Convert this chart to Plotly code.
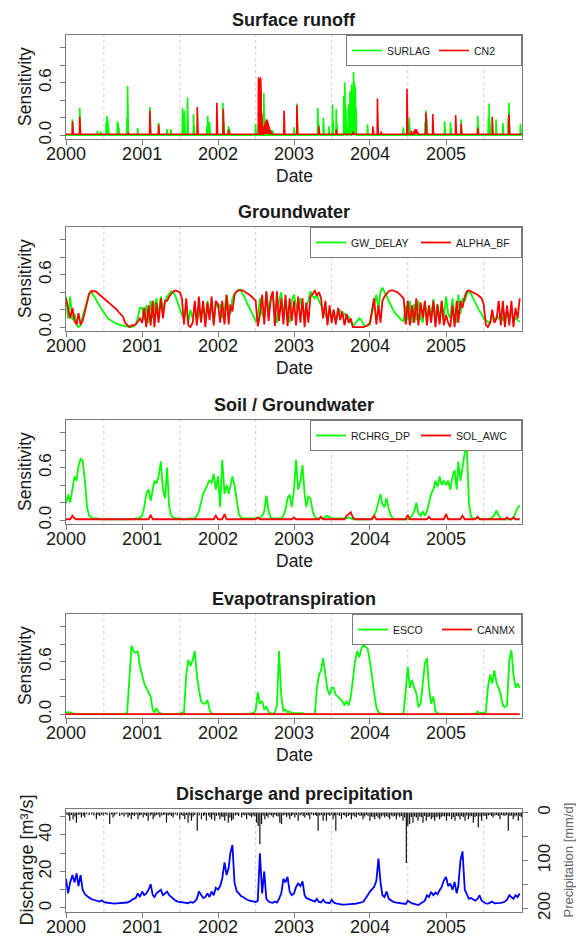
import pandas as pd
import plotly.graph_objects as go

FONT = "Liberation Sans, Arial, Helvetica, sans-serif"
W, H = 576, 937
AXIS_COL = "#7a7a7a"
TEXT_COL = "#1a1a1a"

YEARS = [2000, 2001, 2002, 2003, 2004, 2005]
YEAR_LABELS = [str(y) for y in YEARS]
# ten-day sampling dates (1st, 11th, 21st of each month)
DEKADS = [f"{y}-{m:02d}-{d:02d}" for y in YEARS for m in range(1, 13) for d in (1, 11, 21)]

# ---------------- Surface runoff: daily sensitivity peaks (year, day of year, value)
SURLAG_PEAKS = [
    (2000, 32, 0.18), (2000, 35, 0.10), (2000, 67, 0.31), (2000, 70, 0.12), (2000, 152, 0.05),
    (2000, 168, 0.04), (2000, 194, 0.15), (2000, 198, 0.22), (2000, 202, 0.18), (2000, 206, 0.08),
    (2000, 248, 0.16), (2000, 252, 0.14), (2000, 256, 0.08), (2000, 294, 0.20), (2000, 297, 0.56),
    (2000, 300, 0.12), (2000, 345, 0.08),
    (2001, 38, 0.32), (2001, 80, 0.14), (2001, 120, 0.07), (2001, 139, 0.07), (2001, 195, 0.31),
    (2001, 198, 0.20), (2001, 204, 0.28), (2001, 219, 0.43), (2001, 222, 0.15), (2001, 248, 0.24),
    (2001, 252, 0.10), (2001, 312, 0.10), (2001, 316, 0.22), (2001, 325, 0.15),
    (2002, 24, 0.37), (2002, 28, 0.15), (2002, 51, 0.10), (2002, 55, 0.08), (2002, 181, 0.13),
    (2002, 221, 0.48), (2002, 225, 0.20), (2002, 245, 0.06), (2002, 259, 0.06), (2002, 265, 0.05),
    (2003, 1, 0.09), (2003, 15, 0.36), (2003, 115, 0.31), (2003, 120, 0.12), (2003, 142, 0.20),
    (2003, 168, 0.10), (2003, 186, 0.35), (2003, 190, 0.15), (2003, 204, 0.30), (2003, 208, 0.12),
    (2003, 240, 0.45), (2003, 245, 0.60), (2003, 250, 0.30), (2003, 262, 0.35), (2003, 266, 0.28),
    (2003, 270, 0.50), (2003, 278, 0.58), (2003, 282, 0.40), (2003, 287, 0.72), (2003, 292, 0.60),
    (2003, 296, 0.55), (2003, 300, 0.30), (2003, 354, 0.12),
    (2004, 161, 0.09), (2004, 185, 0.12), (2004, 190, 0.20), (2004, 266, 0.15), (2004, 270, 0.28),
    (2004, 274, 0.20), (2004, 360, 0.16),
    (2005, 22, 0.15), (2005, 26, 0.08), (2005, 73, 0.18), (2005, 153, 0.22), (2005, 157, 0.10),
    (2005, 204, 0.20), (2005, 208, 0.36), (2005, 212, 0.15), (2005, 241, 0.18), (2005, 274, 0.14),
    (2005, 299, 0.20), (2005, 303, 0.37), (2005, 358, 0.13),
]
SURLAG_BASE = 0.0

CN2_PEAKS = [
    (2000, 32, 0.16), (2000, 67, 0.21), (2000, 300, 0.03),
    (2001, 38, 0.28), (2001, 80, 0.12), (2001, 266, 0.32), (2001, 360, 0.37),
    (2002, 26, 0.30), (2002, 51, 0.06), (2002, 195, 0.66), (2002, 198, 0.60), (2002, 201, 0.64),
    (2002, 205, 0.66), (2002, 208, 0.50), (2002, 211, 0.25), (2002, 214, 0.12), (2002, 218, 0.08),
    (2002, 222, 0.10), (2002, 226, 0.13), (2002, 230, 0.16), (2002, 234, 0.18), (2002, 238, 0.17),
    (2002, 242, 0.14), (2002, 246, 0.10), (2002, 250, 0.07), (2002, 254, 0.05), (2002, 258, 0.03),
    (2002, 318, 0.28),
    (2003, 15, 0.34), (2003, 120, 0.10), (2003, 204, 0.07), (2003, 285, 0.04),
    (2004, 15, 0.10), (2004, 37, 0.42), (2004, 55, 0.04), (2004, 179, 0.53), (2004, 200, 0.05),
    (2004, 212, 0.04), (2004, 216, 0.06), (2004, 220, 0.07), (2004, 224, 0.07), (2004, 228, 0.05),
    (2004, 232, 0.03), (2004, 270, 0.26), (2004, 303, 0.24),
    (2005, 47, 0.23), (2005, 73, 0.13), (2005, 153, 0.08), (2005, 223, 0.21), (2005, 303, 0.24),
]
CN2_BASE = 0.01

# ---------------- Groundwater (ten-day values)
GW_DELAY = [
    0.35, 0.10, 0.35, 0.08, 0.15, 0.03, 0.00, 0.02, 0.12, 0.22, 0.32, 0.38, 0.40, 0.37, 0.33, 0.28, 0.24, 0.20,
    0.16, 0.13, 0.10, 0.08, 0.06, 0.05, 0.04, 0.03, 0.02, 0.02, 0.01, 0.01, 0.00, 0.00, 0.01, 0.03, 0.10, 0.22,
    0.22, 0.08, 0.25, 0.05, 0.30, 0.10, 0.25, 0.33, 0.12, 0.35, 0.20, 0.30, 0.35, 0.38, 0.41, 0.40, 0.35, 0.28,
    0.20, 0.14, 0.10, 0.25, 0.05, 0.20, 0.10, 0.25, 0.05, 0.20, 0.08, 0.25, 0.10, 0.30, 0.15, 0.25, 0.05, 0.28,
    0.22, 0.26, 0.10, 0.20, 0.37, 0.20, 0.15, 0.33, 0.38, 0.41, 0.43, 0.42, 0.38, 0.33, 0.27, 0.22, 0.18, 0.12,
    0.07, 0.10, 0.33, 0.15, 0.10, 0.41, 0.20, 0.30, 0.38, 0.15, 0.05, 0.30, 0.40, 0.10, 0.30, 0.15, 0.05, 0.30,
    0.37, 0.25, 0.18, 0.33, 0.22, 0.12, 0.25, 0.30, 0.41, 0.35, 0.33, 0.37, 0.30, 0.25, 0.20, 0.15, 0.07, 0.20,
    0.10, 0.20, 0.06, 0.15, 0.20, 0.12, 0.16, 0.10, 0.12, 0.06, 0.01, 0.04, 0.07, 0.10, 0.08, 0.03, 0.01, 0.02,
    0.03, 0.15, 0.26, 0.37, 0.20, 0.41, 0.45, 0.40, 0.35, 0.30, 0.24, 0.20, 0.16, 0.13, 0.10, 0.08, 0.07, 0.25,
    0.08, 0.30, 0.05, 0.26, 0.08, 0.30, 0.10, 0.05, 0.30, 0.08, 0.25, 0.12, 0.32, 0.08, 0.26, 0.05, 0.30, 0.10,
    0.35, 0.15, 0.10, 0.33, 0.10, 0.05, 0.37, 0.15, 0.33, 0.30, 0.38, 0.41, 0.38, 0.33, 0.28, 0.23, 0.18, 0.15,
    0.10, 0.08, 0.06, 0.05, 0.12, 0.08, 0.12, 0.10, 0.16, 0.07, 0.17, 0.12, 0.15, 0.14, 0.12, 0.10, 0.08, 0.06,
]
ALPHA_BF = [
    0.33, 0.22, 0.10, 0.22, 0.07, 0.03, 0.16, 0.03, 0.07, 0.18, 0.30, 0.38, 0.41, 0.41, 0.41, 0.39, 0.37, 0.34,
    0.33, 0.31, 0.28, 0.26, 0.24, 0.22, 0.20, 0.17, 0.14, 0.12, 0.05, 0.02, 0.00, 0.02, 0.02, 0.03, 0.07, 0.10,
    0.05, 0.22, 0.00, 0.25, 0.02, 0.30, 0.00, 0.28, 0.05, 0.33, 0.10, 0.30, 0.30, 0.35, 0.38, 0.41, 0.42, 0.41,
    0.40, 0.33, 0.03, 0.33, 0.02, 0.00, 0.05, 0.30, 0.02, 0.35, 0.05, 0.30, 0.00, 0.28, 0.08, 0.35, 0.02, 0.30,
    0.26, 0.05, 0.30, 0.03, 0.37, 0.03, 0.26, 0.18, 0.37, 0.41, 0.42, 0.42, 0.42, 0.40, 0.39, 0.37, 0.35, 0.32,
    0.30, 0.01, 0.14, 0.37, 0.03, 0.41, 0.07, 0.33, 0.41, 0.01, 0.41, 0.07, 0.33, 0.03, 0.37, 0.01, 0.33, 0.07,
    0.30, 0.02, 0.35, 0.05, 0.33, 0.00, 0.28, 0.05, 0.35, 0.38, 0.42, 0.36, 0.40, 0.33, 0.10, 0.30, 0.02, 0.25,
    0.05, 0.20, 0.03, 0.22, 0.08, 0.18, 0.02, 0.15, 0.05, 0.10, 0.00, 0.00, 0.00, 0.00, 0.00, 0.00, 0.01, 0.02,
    0.05, 0.18, 0.33, 0.03, 0.25, 0.05, 0.30, 0.35, 0.38, 0.41, 0.42, 0.42, 0.41, 0.40, 0.38, 0.35, 0.33, 0.03,
    0.30, 0.02, 0.25, 0.05, 0.33, 0.02, 0.28, 0.10, 0.30, 0.02, 0.25, 0.05, 0.30, 0.00, 0.26, 0.03, 0.30, 0.02,
    0.14, 0.05, 0.00, 0.25, 0.00, 0.30, 0.05, 0.30, 0.22, 0.35, 0.41, 0.42, 0.41, 0.40, 0.39, 0.37, 0.35, 0.33,
    0.26, 0.03, 0.00, 0.05, 0.20, 0.05, 0.10, 0.30, 0.02, 0.30, 0.00, 0.25, 0.02, 0.30, 0.00, 0.22, 0.10, 0.33,
]

# ---------------- Soil / Groundwater (ten-day values)
RCHRG_DP = [
    0.19, 0.29, 0.20, 0.35, 0.50, 0.45, 0.62, 0.70, 0.68, 0.45, 0.15, 0.05, 0.03, 0.02, 0.02, 0.02, 0.01, 0.01,
    0.01, 0.01, 0.01, 0.01, 0.01, 0.01, 0.01, 0.01, 0.01, 0.01, 0.01, 0.01, 0.01, 0.01, 0.01, 0.02, 0.02, 0.03,
    0.05, 0.15, 0.30, 0.35, 0.22, 0.35, 0.45, 0.42, 0.50, 0.67, 0.35, 0.25, 0.60, 0.15, 0.05, 0.03, 0.02, 0.02,
    0.02, 0.01, 0.01, 0.01, 0.02, 0.02, 0.02, 0.02, 0.05, 0.10, 0.20, 0.30, 0.35, 0.40, 0.46, 0.42, 0.53, 0.35,
    0.50, 0.15, 0.69, 0.30, 0.40, 0.30, 0.38, 0.50, 0.40, 0.20, 0.07, 0.03, 0.02, 0.02, 0.02, 0.02, 0.02, 0.02,
    0.02, 0.02, 0.03, 0.05, 0.10, 0.28, 0.10, 0.03, 0.02, 0.02, 0.02, 0.02, 0.02, 0.05, 0.12, 0.25, 0.29, 0.15,
    0.35, 0.69, 0.35, 0.45, 0.63, 0.30, 0.15, 0.27, 0.25, 0.10, 0.04, 0.02, 0.02, 0.02, 0.02, 0.04, 0.05, 0.03,
    0.02, 0.02, 0.02, 0.02, 0.02, 0.02, 0.02, 0.02, 0.03, 0.02, 0.01, 0.01, 0.01, 0.01, 0.01, 0.01, 0.01, 0.01,
    0.01, 0.02, 0.05, 0.11, 0.20, 0.30, 0.18, 0.15, 0.25, 0.12, 0.05, 0.02, 0.01, 0.01, 0.01, 0.01, 0.01, 0.01,
    0.01, 0.02, 0.05, 0.10, 0.20, 0.08, 0.05, 0.10, 0.05, 0.10, 0.20, 0.30, 0.35, 0.45, 0.38, 0.50, 0.40, 0.45,
    0.40, 0.45, 0.35, 0.50, 0.57, 0.35, 0.67, 0.45, 0.60, 0.78, 0.80, 0.20, 0.04, 0.02, 0.02, 0.02, 0.02, 0.01,
    0.01, 0.01, 0.01, 0.02, 0.03, 0.06, 0.11, 0.05, 0.02, 0.01, 0.01, 0.01, 0.01, 0.01, 0.03, 0.08, 0.14, 0.17,
]
SOL_AWC = [
    0.01, 0.01, 0.01, 0.05, 0.02, 0.01, 0.01, 0.01, 0.01, 0.01, 0.01, 0.01, 0.01, 0.01, 0.01, 0.01, 0.01, 0.01,
    0.01, 0.01, 0.01, 0.01, 0.01, 0.01, 0.01, 0.01, 0.01, 0.01, 0.01, 0.01, 0.01, 0.01, 0.01, 0.01, 0.01, 0.01,
    0.01, 0.01, 0.01, 0.01, 0.06, 0.01, 0.01, 0.01, 0.01, 0.01, 0.01, 0.01, 0.01, 0.01, 0.01, 0.01, 0.01, 0.01,
    0.01, 0.01, 0.01, 0.01, 0.01, 0.01, 0.01, 0.01, 0.01, 0.01, 0.01, 0.01, 0.01, 0.01, 0.01, 0.01, 0.01, 0.05,
    0.01, 0.01, 0.01, 0.07, 0.01, 0.01, 0.01, 0.01, 0.01, 0.01, 0.01, 0.01, 0.01, 0.01, 0.01, 0.01, 0.01, 0.01,
    0.01, 0.03, 0.01, 0.01, 0.01, 0.01, 0.01, 0.01, 0.01, 0.01, 0.01, 0.01, 0.01, 0.01, 0.01, 0.01, 0.01, 0.01,
    0.03, 0.01, 0.01, 0.01, 0.01, 0.01, 0.01, 0.01, 0.01, 0.01, 0.01, 0.01, 0.01, 0.04, 0.01, 0.01, 0.01, 0.01,
    0.01, 0.01, 0.01, 0.01, 0.01, 0.01, 0.01, 0.05, 0.07, 0.09, 0.03, 0.01, 0.01, 0.01, 0.01, 0.01, 0.01, 0.01,
    0.01, 0.01, 0.05, 0.01, 0.01, 0.01, 0.01, 0.01, 0.01, 0.01, 0.01, 0.01, 0.01, 0.01, 0.01, 0.01, 0.01, 0.01,
    0.06, 0.01, 0.01, 0.01, 0.01, 0.01, 0.01, 0.01, 0.01, 0.01, 0.04, 0.01, 0.01, 0.01, 0.01, 0.01, 0.01, 0.01,
    0.07, 0.01, 0.01, 0.01, 0.01, 0.01, 0.01, 0.01, 0.05, 0.01, 0.01, 0.01, 0.01, 0.01, 0.01, 0.04, 0.01, 0.01,
    0.01, 0.01, 0.01, 0.01, 0.01, 0.01, 0.01, 0.01, 0.01, 0.01, 0.01, 0.03, 0.01, 0.01, 0.03, 0.01, 0.01, 0.01,
]

# ---------------- Evapotranspiration (ten-day values)
ESCO = [
    0.02, 0.02, 0.02, 0.01, 0.00, 0.00, 0.00, 0.00, 0.00, 0.00, 0.00, 0.00, 0.00, 0.00, 0.00, 0.00, 0.00, 0.00,
    0.00, 0.00, 0.00, 0.00, 0.00, 0.00, 0.00, 0.00, 0.00, 0.00, 0.00, 0.02, 0.50, 0.78, 0.72, 0.70, 0.72, 0.55,
    0.45, 0.35, 0.30, 0.25, 0.20, 0.05, 0.02, 0.07, 0.02, 0.01, 0.00, 0.00, 0.00, 0.00, 0.00, 0.00, 0.00, 0.00,
    0.00, 0.02, 0.01, 0.45, 0.62, 0.55, 0.62, 0.72, 0.45, 0.28, 0.15, 0.12, 0.12, 0.16, 0.05, 0.01, 0.00, 0.00,
    0.00, 0.00, 0.00, 0.00, 0.00, 0.00, 0.00, 0.00, 0.00, 0.00, 0.00, 0.00, 0.00, 0.00, 0.00, 0.00, 0.01, 0.01,
    0.05, 0.25, 0.12, 0.15, 0.05, 0.09, 0.02, 0.01, 0.00, 0.02, 0.10, 0.72, 0.20, 0.04, 0.05, 0.02, 0.03, 0.01,
    0.01, 0.01, 0.01, 0.01, 0.01, 0.00, 0.00, 0.00, 0.00, 0.00, 0.00, 0.30, 0.45, 0.50, 0.64, 0.45, 0.28, 0.22,
    0.30, 0.30, 0.22, 0.20, 0.17, 0.15, 0.10, 0.15, 0.10, 0.20, 0.39, 0.60, 0.72, 0.65, 0.75, 0.79, 0.77, 0.75,
    0.60, 0.45, 0.25, 0.08, 0.02, 0.01, 0.00, 0.00, 0.00, 0.00, 0.00, 0.00, 0.00, 0.00, 0.00, 0.00, 0.01, 0.30,
    0.54, 0.30, 0.39, 0.30, 0.24, 0.08, 0.12, 0.35, 0.58, 0.64, 0.30, 0.12, 0.20, 0.03, 0.01, 0.00, 0.00, 0.00,
    0.00, 0.00, 0.00, 0.00, 0.00, 0.00, 0.00, 0.00, 0.00, 0.00, 0.00, 0.00, 0.00, 0.00, 0.00, 0.03, 0.01, 0.02,
    0.01, 0.02, 0.30, 0.45, 0.35, 0.50, 0.35, 0.30, 0.22, 0.10, 0.08, 0.10, 0.62, 0.73, 0.45, 0.30, 0.35, 0.30,
]
CANMX = [0.0] * len(DEKADS)

# ---------------- Discharge [m3/s] (ten-day values)
DISCHARGE = [
    16, 8, 14, 18, 14, 19, 12, 18, 10, 7.5, 6.5, 5.5, 5, 4.5, 4.2, 3.8, 3.5, 4.2,
    3.3, 3, 2.8, 2.5, 2.5, 2.4, 2.5, 2.6, 2.5, 2.6, 2.8, 3, 3.5, 4.5, 5, 5.5, 8, 6,
    9, 7, 8, 10, 13, 7, 6, 8, 9, 10, 7, 8, 9, 7, 6, 5, 4, 3.5,
    3.3, 3, 2.8, 2.5, 2.6, 3.3, 2.8, 3.5, 5, 9, 7, 5.5, 6, 8, 6, 9, 7, 11,
    10, 12, 16, 25, 18, 22, 30, 34.5, 14, 9, 8, 6.5, 6, 5, 4.5, 4, 3.8, 3.5,
    3.3, 4, 30, 8, 20, 5, 3.5, 3, 2.8, 3.5, 3, 5, 8, 16, 14, 17, 9, 7,
    8, 11.5, 13.4, 12, 14.6, 7, 5.5, 5, 4.5, 4, 3.5, 5, 3.3, 3, 4.5, 3, 2.8, 2.6,
    4.5, 3, 2.5, 2.2, 2, 1.8, 1.8, 1.8, 2, 2, 2.2, 2.3, 2.5, 3, 3, 3.5, 5, 7,
    9, 10, 11.5, 15, 27, 14, 7, 6, 9, 5, 4, 3.5, 3, 2.8, 2.5, 2.4, 2, 2.2,
    4, 3, 2.5, 2.2, 2, 1.6, 2.5, 3.5, 4, 7, 6, 8.8, 7, 8.5, 7.5, 9.7, 11.5, 15,
    17, 12, 13.4, 10, 14.3, 8, 12, 26, 31, 10, 7, 5, 5.5, 4.5, 4, 5, 7, 4,
    3, 2.5, 2.4, 3, 3.5, 2.5, 2.5, 2.6, 2.8, 3, 3.5, 4.5, 7, 6, 5, 7, 6, 7.9,
]

# ---------------- Daily precipitation [mm/d]: (day of year, depth)
PRECIP_2000 = [(5, 4), (12, 6), (19, 17), (27, 5), (35, 14), (44, 8), (51, 21), (60, 5), (68, 4), (75, 10),
               (84, 6), (91, 10), (100, 3), (112, 5), (125, 4), (135, 6), (147, 14), (155, 5), (163, 7),
               (172, 4), (180, 6), (190, 3), (198, 5), (211, 24), (220, 4), (227, 10), (235, 6), (245, 3),
               (259, 7), (270, 5), (280, 8), (290, 4), (299, 10), (306, 6), (315, 14), (322, 5), (330, 7),
               (338, 4), (347, 14), (355, 6), (362, 5)]
PRECIP_2001 = [(6, 10), (14, 5), (22, 7), (30, 17), (40, 6), (47, 4), (54, 14), (62, 8), (70, 5), (78, 4),
               (86, 10), (95, 6), (104, 5), (110, 4), (118, 21), (126, 6), (134, 5), (142, 7), (150, 10),
               (160, 4), (170, 6), (182, 14), (190, 5), (198, 7), (206, 14), (214, 5), (222, 21), (230, 6),
               (238, 17), (246, 8), (254, 5), (266, 38), (275, 6), (286, 14), (296, 7), (302, 5), (310, 17),
               (320, 6), (327, 9), (335, 14), (342, 5), (350, 17), (358, 7)]
PRECIP_2002 = [(3, 6), (10, 14), (18, 8), (25, 9), (33, 17), (40, 7), (50, 21), (58, 10), (66, 17), (74, 14),
               (84, 6), (92, 5), (100, 7), (114, 10), (122, 5), (130, 6), (138, 14), (146, 5), (154, 7),
               (162, 10), (170, 6), (178, 8), (186, 21), (194, 28), (202, 66), (210, 24), (218, 6), (226, 14),
               (234, 7), (241, 10), (250, 5), (258, 6), (266, 10), (274, 5), (282, 7), (290, 8), (298, 21),
               (306, 24), (314, 6), (322, 5), (330, 9), (338, 6), (346, 14), (354, 7), (361, 5)]
PRECIP_2003 = [(5, 10), (12, 5), (21, 17), (30, 6), (38, 4), (45, 7), (53, 10), (62, 5), (70, 6), (77, 14),
               (86, 4), (95, 6), (104, 5), (110, 7), (117, 38), (125, 6), (133, 5), (141, 17), (148, 6),
               (157, 17), (165, 5), (173, 7), (181, 4), (189, 14), (196, 6), (202, 38), (212, 5), (220, 7),
               (229, 14), (238, 5), (245, 6), (253, 10), (262, 7), (270, 5), (277, 14), (285, 6), (293, 8),
               (301, 10), (310, 5), (318, 7), (326, 6), (333, 14), (341, 8), (349, 5), (357, 7)]
PRECIP_2004 = [(1, 17), (8, 8), (16, 9), (24, 14), (32, 7), (40, 10), (48, 14), (56, 8), (64, 6), (72, 10),
               (80, 7), (88, 9), (96, 14), (104, 6), (112, 8), (120, 7), (128, 14), (136, 6), (144, 9),
               (152, 7), (160, 17), (168, 10), (176, 105), (183, 28), (192, 24), (200, 9), (208, 21),
               (216, 8), (224, 10), (232, 17), (240, 8), (248, 9), (256, 21), (264, 7), (272, 17), (280, 9),
               (288, 8), (296, 14), (304, 10), (312, 17), (320, 9), (328, 8), (336, 14), (344, 9), (352, 7),
               (360, 8)]
PRECIP_2005 = [(3, 17), (10, 7), (18, 8), (28, 14), (36, 9), (44, 17), (52, 7), (60, 8), (68, 14), (76, 7),
               (84, 9), (92, 17), (100, 6), (108, 14), (116, 8), (124, 7), (132, 21), (140, 9), (148, 7),
               (156, 31), (164, 8), (172, 17), (180, 6), (188, 7), (196, 14), (204, 6), (212, 5), (220, 7),
               (227, 10), (236, 6), (244, 5), (252, 7), (260, 14), (268, 5), (276, 6), (284, 7), (292, 5),
               (300, 38), (308, 7), (316, 6), (324, 14), (332, 8), (340, 6), (348, 17), (356, 7), (363, 9)]
PRECIP = {2000: PRECIP_2000, 2001: PRECIP_2001, 2002: PRECIP_2002,
          2003: PRECIP_2003, 2004: PRECIP_2004, 2005: PRECIP_2005}

for series in (GW_DELAY, ALPHA_BF, RCHRG_DP, SOL_AWC, ESCO, DISCHARGE):
    assert len(series) == len(DEKADS)

GREEN, RED, BLUE = "#00ff00", "#ff0000", "#0000ff"

# panel boxes in pixels: (top, bottom)
PANELS = [(35, 139), (227, 331), (420, 524), (614, 718), (809, 912)]
BOX_L, BOX_R = 66, 522
TITLES = ["Surface runoff", "Groundwater", "Soil / Groundwater", "Evapotranspiration",
          "Discharge and precipitation"]
# per-panel legend entry widths (px of text area)
LEGEND_ENTRY = [42, 60, 60, 39]


def px_x(x):
    return x / W


def px_y(y):
    return 1 - y / H


def doy_date(year, doy):
    return pd.Timestamp(year, 1, 1) + pd.Timedelta(days=doy - 1)


DAYS = pd.date_range("2000-01-01", "2005-12-31", freq="D")


def daily_series(peaks, base):
    s = pd.Series(base, index=DAYS, dtype=float)
    for yr, doy, v in peaks:
        s[doy_date(yr, doy)] = v
    return s


fig = go.Figure()


def key(prefix, i):
    return prefix if i == 1 else f"{prefix}{i}"


def add_line(i, x, y, name, color, width=1.8, legend=True):
    fig.add_trace(go.Scatter(
        x=x, y=y, mode="lines", name=name,
        line=dict(color=color, width=width),
        xaxis=key("x", i), yaxis=key("y", i),
        legend=key("legend", i), showlegend=legend, hoverinfo="skip",
    ))


def text(x, y, s, size, color=TEXT_COL, angle=0):
    return dict(x=px_x(x), y=px_y(y), xref="paper", yref="paper", text=s, textangle=angle,
                xanchor="center", yanchor="middle", showarrow=False,
                font=dict(family=FONT, size=size, color=color))


# Panel 1
surlag = daily_series(SURLAG_PEAKS, SURLAG_BASE)
cn2 = daily_series(CN2_PEAKS, CN2_BASE)
add_line(1, surlag.index, surlag.values, "SURLAG", GREEN, 1.6)
add_line(1, cn2.index, cn2.values, "CN2", RED, 1.6)
# Panel 2
add_line(2, DEKADS, GW_DELAY, "GW_DELAY", GREEN)
add_line(2, DEKADS, ALPHA_BF, "ALPHA_BF", RED)
# Panel 3
add_line(3, DEKADS, RCHRG_DP, "RCHRG_DP", GREEN)
add_line(3, DEKADS, SOL_AWC, "SOL_AWC", RED)
# Panel 4
add_line(4, DEKADS, ESCO, "ESCO", GREEN)
add_line(4, DEKADS, CANMX, "CANMX", RED)

# Panel 5: precipitation hanging from the top (secondary, reversed axis) and discharge
px_, py_ = [], []
for yr, events in PRECIP.items():
    for doy, mm in events:
        d = doy_date(yr, doy)
        px_ += [d, d, None]
        py_ += [0, mm, None]
fig.add_trace(go.Scatter(x=px_, y=py_, mode="lines", line=dict(color="#111111", width=1.2),
                         xaxis="x5", yaxis="y6", showlegend=False, hoverinfo="skip"))
fig.add_trace(go.Scatter(x=DEKADS, y=DISCHARGE, mode="lines", line=dict(color=BLUE, width=1.8),
                         xaxis="x5", yaxis="y5", showlegend=False, hoverinfo="skip"))

layout = {}
annotations = []
shapes = []
YEAR_TICKS = [f"{y}-01-01" for y in YEARS]
MID_YEAR = [f"{y}-07-01" for y in YEARS]

for i, (top, bot) in enumerate(PANELS, start=1):
    ydom = [px_y(bot), px_y(top)]
    layout[key("xaxis", i)] = dict(
        domain=[px_x(BOX_L), px_x(BOX_R)], anchor=key("y", i), type="date", automargin=False,
        range=["2000-01-01", "2006-01-01"], tickvals=YEAR_TICKS, ticktext=YEAR_LABELS,
        ticks="outside", ticklen=5, tickcolor=AXIS_COL, showline=True, linecolor=AXIS_COL,
        linewidth=1, mirror=True, showgrid=False, zeroline=False, ticklabelstandoff=-7,
        tickfont=dict(family=FONT, size=18, color=TEXT_COL),
    )
    if i < 5:
        layout[key("yaxis", i)] = dict(
            domain=ydom, anchor=key("x", i), range=[-0.044, 1.144], automargin=False,
            tickvals=[0, 0.2, 0.4, 0.6, 0.8, 1.0], ticktext=["0.0", "", "", "0.6", "", ""],
            tickangle=-90, ticks="outside", ticklen=5, tickcolor=AXIS_COL, ticklabelstandoff=2,
            showline=True, linecolor=AXIS_COL, mirror=True, showgrid=False, zeroline=False,
            tickfont=dict(family=FONT, size=17, color=TEXT_COL),
        )
        annotations.append(text(25, (top + bot) / 2, "Sensitivity", 17.5, angle=-90))
        annotations.append(text((BOX_L + BOX_R) / 2, bot + 37, "Date", 17.5))
        layout[key("legend", i)] = dict(
            orientation="h", x=px_x(BOX_R), xanchor="right", y=px_y(top), yanchor="top",
            bordercolor=AXIS_COL, borderwidth=1, bgcolor="white",
            entrywidth=LEGEND_ENTRY[i - 1], entrywidthmode="pixels",
            font=dict(family=FONT, size=10.5, color=TEXT_COL),
        )
    annotations.append(text((BOX_L + BOX_R) / 2, top - 15, f"<b>{TITLES[i - 1]}</b>", 18))
    for d in MID_YEAR:
        shapes.append(dict(type="line", xref=key("x", i), yref=f"{key('y', i)} domain",
                           x0=d, x1=d, y0=0, y1=1, layer="below",
                           line=dict(color="#cfcfcf", width=1, dash="dot")))

top5, bot5 = PANELS[4]
layout["yaxis5"] = dict(
    domain=[px_y(bot5), px_y(top5)], anchor="x5", range=[-2.2, 54.2], automargin=False,
    tickvals=[0, 10, 20, 30, 40, 50], ticktext=["0", "", "20", "", "40", ""],
    tickangle=-90, ticks="outside", ticklen=5, tickcolor=AXIS_COL, ticklabelstandoff=2,
    showline=True, linecolor=AXIS_COL, mirror=True, showgrid=False, zeroline=False,
    tickfont=dict(family=FONT, size=17, color=TEXT_COL),
)
layout["yaxis6"] = dict(
    overlaying="y5", anchor="x5", side="right", range=[207.5, -7.5], automargin=False,
    tickvals=[0, 50, 100, 150, 200], ticktext=["0", "", "100", "", "200"],
    tickangle=-90, ticks="outside", ticklen=5, tickcolor=AXIS_COL, ticklabelstandoff=2,
    showline=False, showgrid=False, zeroline=False,
    tickfont=dict(family=FONT, size=17, color=TEXT_COL),
)
annotations.append(text(26, (top5 + bot5) / 2, "Discharge [m³/s]", 18, angle=-90))
annotations.append(text(568, (top5 + bot5) / 2, "Precipitation [mm/d]", 13, color="#666666", angle=-90))

fig.update_layout(
    width=W, height=H, margin=dict(l=0, r=0, t=0, b=0, autoexpand=False),
    paper_bgcolor="white", plot_bgcolor="white",
    annotations=annotations, shapes=shapes, **layout,
)

fig.write_html("out.html", config={"displayModeBar": False})
